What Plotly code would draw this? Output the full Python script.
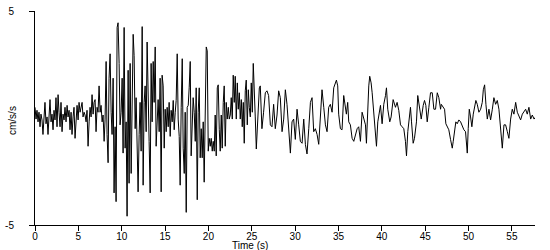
import plotly.graph_objects as go

# Time (s) and ground acceleration (cm/s/s)
time_s = [
    0.00, 0.12, 0.23, 0.35, 0.46, 0.58, 0.69, 0.81, 0.92, 1.04, 1.15, 1.27, 1.39, 1.50, 1.62, 1.73, 1.85, 1.96,
    2.08, 2.19, 2.31, 2.42, 2.54, 2.66, 2.77, 2.89, 3.00, 3.12, 3.23, 3.35, 3.46, 3.58, 3.70, 3.81, 3.93, 4.04,
    4.16, 4.27, 4.39, 4.50, 4.62, 4.73, 4.85, 4.97, 5.08, 5.20, 5.31, 5.43, 5.54, 5.66, 5.77, 5.89, 6.00, 6.12,
    6.24, 6.35, 6.47, 6.58, 6.70, 6.81, 6.93, 7.04, 7.16, 7.27, 7.39, 7.51, 7.62, 7.74, 7.85, 7.97, 8.08, 8.20,
    8.31, 8.43, 8.54, 8.66, 8.78, 8.89, 9.01, 9.12, 9.24, 9.35, 9.47, 9.58, 9.70, 9.81, 9.93, 10.05, 10.16, 10.28,
    10.39, 10.51, 10.62, 10.74, 10.85, 10.97, 11.09, 11.20, 11.32, 11.43, 11.55, 11.66, 11.78, 11.89, 12.01,
    12.12, 12.24, 12.36, 12.47, 12.59, 12.70, 12.82, 12.93, 13.05, 13.16, 13.28, 13.39, 13.51, 13.63, 13.74,
    13.86, 13.97, 14.09, 14.20, 14.32, 14.43, 14.55, 14.66, 14.78, 14.90, 15.01, 15.13, 15.24, 15.36, 15.47,
    15.59, 15.70, 15.82, 15.94, 16.05, 16.17, 16.28, 16.40, 16.51, 16.63, 16.74, 16.86, 16.98, 17.09, 17.21,
    17.32, 17.44, 17.55, 17.67, 17.78, 17.90, 18.01, 18.13, 18.24, 18.36, 18.48, 18.59, 18.71, 18.82, 18.94,
    19.05, 19.17, 19.28, 19.40, 19.51, 19.63, 19.75, 19.86, 19.98, 20.09, 20.21, 20.32, 20.44, 20.55, 20.67,
    20.78, 20.90, 21.02, 21.13, 21.25, 21.36, 21.48, 21.59, 21.71, 21.82, 21.94, 22.05, 22.17, 22.29, 22.40,
    22.52, 22.63, 22.75, 22.86, 22.98, 23.09, 23.21, 23.33, 23.44, 23.56, 23.67, 23.79, 23.90, 24.02, 24.13,
    24.25, 24.36, 24.48, 24.60, 24.71, 24.83, 24.94, 25.06, 25.17, 25.29, 25.40, 25.52, 25.63, 25.75, 25.87,
    25.98, 26.17, 26.36, 26.56, 26.75, 26.94, 27.14, 27.33, 27.52, 27.71, 27.91, 28.10, 28.29, 28.49, 28.68,
    28.87, 29.06, 29.26, 29.45, 29.64, 29.83, 30.02, 30.22, 30.41, 30.60, 30.80, 30.99, 31.18, 31.37, 31.57,
    31.76, 31.95, 32.14, 32.33, 32.53, 32.72, 32.91, 33.10, 33.30, 33.49, 33.68, 33.87, 34.06, 34.26, 34.45,
    34.64, 34.76, 34.91, 35.02, 35.22, 35.41, 35.60, 35.80, 35.91, 36.06, 36.18, 36.37, 36.57, 36.76, 36.95,
    37.15, 37.33, 37.53, 37.72, 37.91, 38.11, 38.22, 38.30, 38.49, 38.60, 38.76, 38.88, 39.06, 39.26, 39.38,
    39.53, 39.72, 39.84, 40.03, 40.22, 40.42, 40.53, 40.68, 40.91, 41.07, 41.19, 41.30, 41.57, 41.76, 41.95,
    42.15, 42.34, 42.53, 42.72, 42.84, 42.99, 43.15, 43.30, 43.42, 43.61, 43.76, 43.99, 44.14, 44.38, 44.54,
    44.77, 44.92, 45.07, 45.23, 45.42, 45.61, 45.81, 46.00, 46.19, 46.39, 46.57, 46.77, 46.85, 47.08, 47.23,
    47.38, 47.54, 47.72, 47.92, 48.12, 48.23, 48.38, 48.53, 48.69, 48.88, 49.08, 49.27, 49.46, 49.65, 49.85,
    49.96, 50.08, 50.23, 50.38, 50.54, 50.69, 50.84, 51.00, 51.19, 51.39, 51.58, 51.70, 51.85, 52.00, 52.16,
    52.35, 52.54, 52.74, 52.92, 53.12, 53.31, 53.50, 53.69, 53.89, 54.08, 54.27, 54.47, 54.65, 54.85, 55.04,
    55.23, 55.43, 55.62, 55.81, 56.00, 56.20, 56.39, 56.58, 56.77, 56.96, 57.16, 57.35, 57.55, 57.74,
]

accel = [
    0.50, -0.05, 0.36, -0.18, 0.27, -0.41, 0.18, -0.09, -0.77, 0.27, 0.73, -0.27, 0.05, -0.77, 0.50, 0.86, -0.18, 0.18,
    -0.55, 0.36, -0.09, 0.95, -0.41, 1.09, 0.27, -0.41, 0.73, -0.64, 0.18, -0.09, 0.50, -0.18, 0.59, 0.05, 0.36, -0.55,
    0.27, -0.77, 0.05, 0.50, -0.95, 0.18, 0.59, -0.09, 0.73, 0.27, 0.50, 0.73, 0.05, 0.27, 0.14, -0.18, 0.36, -1.32,
    -0.18, 0.50, 0.05, 1.09, 0.18, 0.73, 0.86, -0.64, 0.50, 0.27, 1.50, 0.27, 0.59, -0.18, 0.14, -1.09, -0.09, 2.64,
    -0.77, -2.09, 1.86, 3.00, 0.27, -0.77, 1.86, -3.50, -0.41, -3.91, 4.23, 4.45, 2.55, -0.32, 0.27, 1.86, -1.64, 4.23,
    -1.41, -0.18, -4.59, 2.23, -3.05, 2.55, -2.59, 0.73, 3.91, 2.91, -0.50, 0.95, -1.55, -3.45, -0.77,
    0.73, -1.55, 4.27, -3.14, 0.73, 1.50, -0.64, 3.55, 0.27, -1.09, -3.50, 2.55, -0.18, 2.64, 0.73,
    3.32, -1.32, 0.05, 0.86, -0.64, 1.86, -3.45, 2.00, 1.50, -1.41, 0.41, -0.64, 0.50, -0.41, 0.73,
    -0.86, 0.36, -0.18, 0.82, -0.55, 0.27, 0.82, 3.00, -0.05, -0.86, -3.14, 0.50, 2.77, -1.41, -2.59,
    0.27, -4.41, 0.50, 0.59, 1.41, 2.64, -1.77, 0.27, 0.95, 0.27, -1.09, 1.41, -3.82, 0.27, 1.41,
    -1.86, -0.50, -1.86, -0.18, -3.00, -0.18, 3.32, 3.14, -1.55, -0.95, -1.32, -0.95, -1.55, -1.09, -1.55,
    0.14, -1.77, 1.41, 1.55, -0.55, -1.55, 0.14, -1.41, 0.73, 1.50, -1.32, 0.73, -0.05, 0.50, -0.05,
    0.14, 0.95, -0.05, 2.00, 0.73, 1.95, -0.05, 1.64, 0.41, 1.18, -0.05, 0.86, -0.41, 0.73, -1.18,
    1.27, 1.77, -0.32, 1.32, 0.50, 0.05, 1.64, 0.27, 2.55, 0.50, 0.05, -1.45, -0.55, 0.27, 1.41,
    1.50, -0.50, 0.27, 1.18, 1.27, 1.05, -0.32, -0.41, 0.64, -0.50, 0.14, 1.27, 0.95, -0.64, -0.05,
    1.32, 0.64, -0.64, -1.64, -0.18, -0.05, -1.00, 0.41, -0.32, -1.09, -1.18, -0.05, -1.23, -1.68, -0.50,
    0.73, 0.95, -0.64, -0.50, -0.77, -1.23, -0.18, 1.32, 0.50, -0.32, -0.64, 0.50, 0.64, 0.27, 1.41,
    1.64, 1.77, 1.50, 0.18, -0.50, -0.55, 1.05, 0.27, 0.18, 0.73, -0.18, -0.32, -0.95, -1.09, -0.73,
    -0.50, -0.41, -1.09, 0.27, -0.05, -0.32, -1.18, -0.18, 1.50, 1.95, 1.64, 1.18, 0.27, -0.64, -1.32,
    -0.18, 0.27, 0.59, -0.27, 0.64, 1.05, 1.41, 0.41, -0.18, 0.05, 0.64, 0.86, 0.50, 0.73, 0.36,
    -0.32, -0.41, -0.50, -1.09, -1.77, -0.64, 0.05, 0.50, -0.18, -1.18, -0.95, -0.18, 1.05, 0.36, -0.05,
    0.59, 0.82, 0.59, -0.18, 0.50, 1.18, 1.18, 0.41, 0.41, 1.18, 0.95, 0.41, 0.64, 0.50, 0.41,
    -0.27, -0.41, -0.55, -1.00, -1.41, -1.09, -0.50, -0.18, -0.27, -0.09, -0.18, -0.41, -0.55, -0.64, -1.64,
    -0.50, 0.41, 0.05, -0.41, 0.18, 0.59, 0.82, 0.64, 0.27, 0.41, 0.73, 1.32, 1.55, 0.64, -0.05,
    0.41, -0.09, 0.41, 0.95, 0.64, 0.82, 0.41, -0.50, -1.41, -0.32, -0.32, -0.64, -0.95, -0.05, 0.41,
    0.18, 0.73, 0.27, 0.05, -0.09, 0.18, 0.27, 0.41, 0.18, 0.50, -0.05, 0.14, -0.05, 0.05,
]

x_ticks = [0, 5, 10, 15, 20, 25, 30, 35, 40, 45, 50, 55]
y_ticks = [-5, 5]
y_tick_text = ["-5", "5"]
x_title = "Time (s)"
y_title = "cm/s/s"

font = dict(family="Liberation Sans, Arial, sans-serif", size=10, color="black")

fig = go.Figure(
    go.Scatter(x=time_s, y=accel, mode="lines",
               line=dict(color="black", width=1), hoverinfo="skip")
)

fig.update_layout(
    width=550, height=250,
    margin=dict(l=35, r=15, t=5, b=25),
    paper_bgcolor="white", plot_bgcolor="white",
    showlegend=False, font=font,
    xaxis=dict(range=[0, 57.66], tickvals=x_ticks, ticks="outside", ticklen=5,
               tickcolor="black", showline=True, linecolor="black", linewidth=1,
               showgrid=False, zeroline=False, tickfont=font, ticklabelstandoff=-3,
               ticklabeloverflow="allow"),
    yaxis=dict(range=[-5, 5], tickvals=y_ticks, ticktext=y_tick_text, ticks="outside",
               ticklen=5, tickcolor="black", showline=True, linecolor="black", linewidth=1,
               showgrid=False, zeroline=False, tickfont=font, ticklabelstandoff=13,
               ticklabeloverflow="allow"),
    annotations=[
        dict(text=x_title, xref="paper", yref="paper", x=0.43, y=0, yshift=-20,
             xanchor="center", yanchor="middle", showarrow=False, font=font),
        dict(text=y_title, xref="paper", yref="paper", x=0, xshift=-22, y=0.486,
             xanchor="center", yanchor="middle", textangle=-90, showarrow=False, font=font),
    ],
)

fig.write_html("out.html")
